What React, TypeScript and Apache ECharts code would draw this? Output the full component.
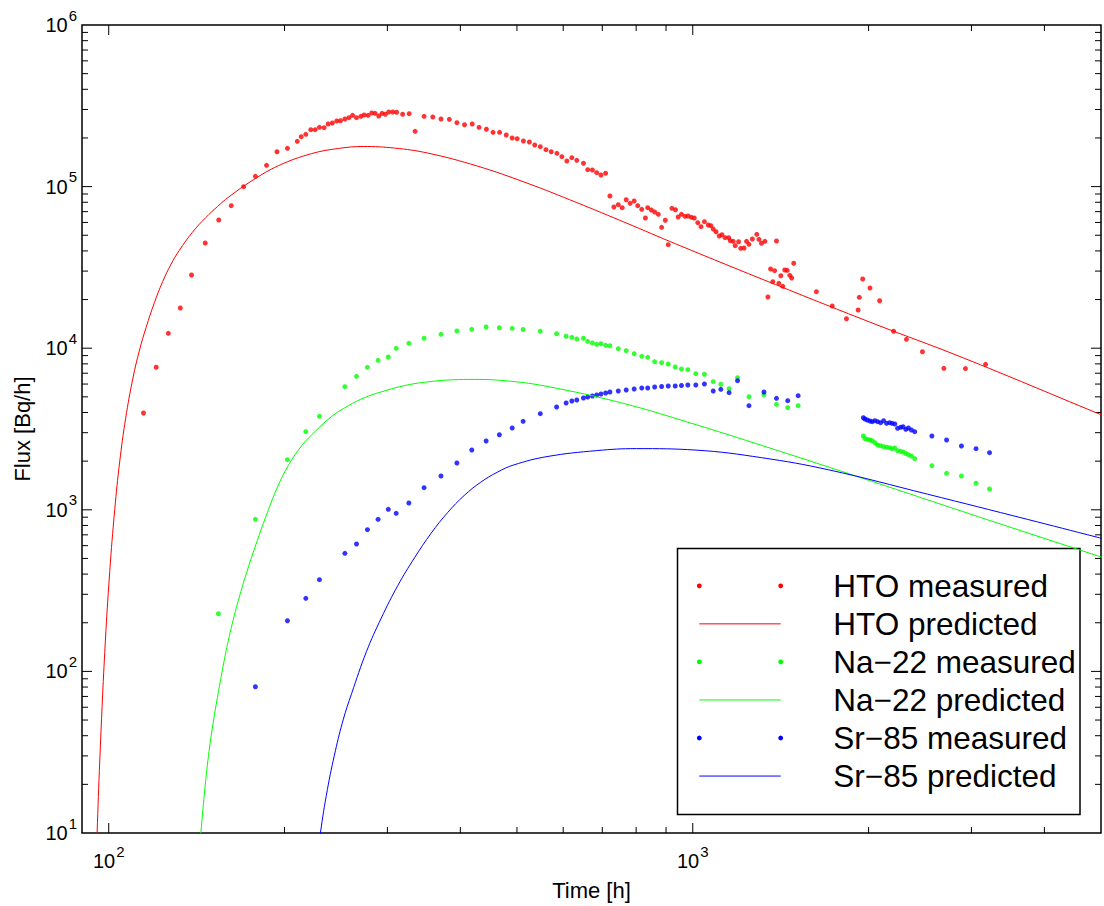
import React, { useEffect, useRef } from 'react';
import * as echarts from 'echarts';

const FONT = '"Liberation Sans", Arial, Helvetica, sans-serif';

// Axis ranges
const X_MIN = 90;
const X_MAX = 5000;
const Y_MIN = 10;
const Y_MAX = 1e6;

// Tick values
const xMajorTicks = [100, 1000];
const xMinorTicks = [200, 300, 400, 500, 600, 700, 800, 900, 2000, 3000, 4000];
const yMajorTicks = [100, 1000, 10000, 100000];
const yMinorTicks = [
  20, 30, 40, 50, 60, 70, 80, 90,
  200, 300, 400, 500, 600, 700, 800, 900,
  2000, 3000, 4000, 5000, 6000, 7000, 8000, 9000,
  20000, 30000, 40000, 50000, 60000, 70000, 80000, 90000,
  200000, 300000, 400000, 500000, 600000, 700000, 800000, 900000,
];

const seriesNames = [
  'HTO measured',
  'HTO predicted',
  'Na\u221222 measured',
  'Na\u221222 predicted',
  'Sr\u221285 measured',
  'Sr\u221285 predicted',
];
const seriesColors = ['#ff0000', '#ff0000', '#00ff00', '#00ff00', '#0000ff', '#0000ff'];
const seriesKinds = ['dots', 'line', 'dots', 'line', 'dots', 'line'];

// HTO measured
const htoMeasuredTime = [
  114.7, 120.6, 126.5, 132.6, 138.6, 146.3, 154.3, 162.1, 170.2, 178.3,
  186.3, 194.1, 202.3, 210.3, 213.6, 217.5, 221.8, 225.7, 229.5, 233.8,
  237.5, 241.5, 245.7, 249.4, 253.7, 257.8, 261.5, 265.6, 270.2, 273.7,
  278.0, 282.1, 285.8, 290.0, 293.7, 297.6, 301.6, 306.4, 311.1, 318.6,
  326.9, 334.6, 346.7, 358.8, 370.6, 383.0, 394.6, 406.6, 419.1, 430.6,
  443.3, 455.0, 466.9, 479.3, 490.7, 500.4, 512.9, 525.1, 536.3, 548.2,
  560.6, 572.3, 585.3, 596.9, 608.7, 620.8, 633.0, 649.9, 660.9, 673.2,
  684.7, 696.3, 709.3, 721.3, 732.7, 745.5, 757.2, 769.2, 781.3, 793.7,
  805.0, 817.8, 829.7, 837.2, 849.4, 860.5, 873.0, 884.4, 897.3, 907.8,
  921.1, 934.2, 944.1, 956.4, 970.3, 981.8, 994.6, 1006, 1020, 1033,
  1047, 1063, 1074, 1084, 1096, 1110, 1122, 1136, 1152, 1159,
  1173, 1182, 1198, 1208, 1224, 1236, 1248, 1265, 1287, 1298,
  1311, 1329, 1345, 1359, 1371, 1381, 1391, 1404, 1415, 1426,
  1437, 1451, 1466, 1477, 1489, 1628, 1733, 1833, 1919, 1928,
  1954, 2011, 2089, 2207, 2322, 2473, 2691, 2930, 3172,
];
const htoMeasuredFlux = [
  3970, 7620, 12360, 17740, 28380, 44770, 62150, 76170, 99860, 115800,
  135400, 164400, 172600, 190700, 203600, 210700, 225000, 225000, 232800, 231500,
  244000, 247500, 254600, 255700, 262000, 266900, 276200, 266900, 272300, 277400,
  276200, 285400, 284200, 273400, 284200, 280200, 289500, 289500, 288300, 280200,
  282600, 219900, 272300, 269600, 262000, 260900, 248600, 241500, 244000, 232800,
  226300, 216800, 216800, 208600, 199800, 197900, 191500, 188800, 180900, 176600,
  169200, 164400, 160700, 153100, 144000, 151000, 145400, 139400, 127300, 126700,
  121900, 118000, 120900, 87460, 74780, 77270, 74030, 82960, 78820, 81450,
  76170, 72360, 63930, 74030, 71640, 69630, 67390, 56000, 61890, 43700,
  73400, 71940, 64850, 67390, 65490, 65780, 64570, 63930, 59810, 56490,
  60670, 57860, 57280, 54640, 52580, 49460, 50380, 48280, 48280, 46260,
  45870, 43080, 45600, 41510, 41690, 45870, 43950, 47390, 50680, 47190,
  44590, 45870, 20740, 30910, 25790, 30170, 46070, 25210, 28090, 24150,
  30470, 30300, 28260, 27190, 33530, 22370, 18240, 15220, 17230, 20650,
  26810, 23570, 19670, 12730, 11350, 9510, 7510, 7480, 7950,
];

// HTO predicted
const htoPredTime = [
  95.37, 95.52, 96.54, 98.44, 100.4, 102.4, 104.4, 106.9, 110.0, 112.9,
  115.9, 119.7, 123.7, 127.9, 132.1, 139.1, 146.6, 153.5, 160.6, 176.0,
  195.4, 222.7, 247.2, 272.7, 308.7, 351.8, 427.9, 520.3, 633.0, 770.0,
  936.8, 1386, 2051, 2880, 4933, 5050,
];
const htoPredFlux = [
  7.85, 10, 28.26, 130.7, 414.7, 1003, 1973, 3683, 6523, 9732,
  13470, 19090, 25830, 33190, 40340, 52150, 64300, 75200, 86350, 108900,
  134900, 160100, 172100, 177100, 173100, 161200, 133900, 105100, 79620, 59450,
  44070, 24750, 14100, 8822, 3955, 3816,
];

// Na-22 measured
const naMeasuredTime = [
  154.1, 178.3, 202.3, 217.5, 229.5, 253.7, 265.6, 277.3, 289.2, 301.1,
  310.6, 326.5, 346.7, 370.6, 394.6, 418.4, 442.8, 466.5, 490.7, 512.3,
  548.2, 584.6, 607.0, 620.8, 633.0, 649.9, 660.9, 673.2, 684.7, 696.3,
  709.3, 721.3, 745.5, 769.2, 793.7, 817.8, 837.2, 860.5, 884.4, 907.8,
  933.1, 956.4, 980.7, 1012, 1047, 1084, 1117, 1154, 1193, 1248,
  1324, 1391, 1454, 1515,
  1959, 1972, 1990, 2011, 2029, 2051, 2073, 2097, 2122, 2147,
  2173, 2195, 2218, 2242, 2268, 2291, 2316, 2340, 2368, 2399,
  2567, 2720, 2884, 3055, 3222,
];
const naMeasuredFlux = [
  227.5, 873, 2042, 3043, 3790, 5779, 6700, 7617, 8417, 8822,
  9986, 10720, 11520, 12190, 12780, 13090, 13530, 13390, 13280, 13050,
  12740, 12290, 11850, 11680, 11400, 11520, 11030, 10770, 10570, 10660,
  10420, 10360, 9929, 9650, 9247, 8911, 8785, 8249, 8134, 7984,
  7650, 7434, 7362, 6956, 6897, 6204, 5981, 5615, 6571, 5009,
  5154, 4496, 4283, 4407,
  2862, 2754, 2731, 2703, 2676, 2601, 2518, 2493, 2458, 2437,
  2423, 2388, 2412, 2321, 2301, 2279, 2237, 2193, 2152, 2071,
  1875, 1682, 1619, 1459, 1345,
];

// Na-22 predicted
const naPredTime = [
  143.1, 143.8, 146.2, 148.5, 151.0, 153.5, 158.2, 162.7, 168.4, 173.8,
  179.6, 185.5, 194.2, 203.3, 214.2, 225.7, 240.9, 257.1, 274.5, 292.9,
  323.1, 356.4, 387.9, 422.4, 486.9, 562.8, 755.1, 1013, 1402, 1947,
  3197, 4932, 5050,
];
const naPredFlux = [
  7.85, 10, 19.31, 31.94, 48.56, 68.94, 124.3, 196.5, 312.6, 452.9,
  644.8, 892.5, 1364, 1899, 2503, 3056, 3784, 4401, 4954, 5365,
  5902, 6221, 6376, 6411, 6248, 5803, 4587, 3362, 2318, 1573,
  867.6, 519.1, 504.7,
];

// Sr-85 measured
const srMeasuredTime = [
  178.3, 202.3, 217.5, 229.5, 253.7, 265.6, 277.3, 289.2, 301.1, 310.6,
  326.5, 346.7, 370.6, 394.6, 418.4, 442.8, 466.5, 490.7, 512.3, 548.2,
  584.6, 607.0, 620.8, 633.0, 649.9, 660.9, 673.2, 684.7, 696.3, 709.3,
  721.3, 745.5, 769.2, 793.7, 817.8, 837.2, 860.5, 884.4, 907.8, 933.1,
  956.4, 980.7, 1012,
  1047, 1084, 1117, 1154, 1193, 1248, 1324, 1391, 1454, 1515,
  1959, 1972, 1990, 2011, 2029, 2051, 2073, 2097, 2122, 2147,
  2173, 2195, 2218, 2242, 2268, 2291, 2316, 2340, 2368, 2399,
  2567, 2720, 2884, 3055, 3222,
];
const srMeasuredFlux = [
  80.4, 205.9, 283.4, 369.4, 538.0, 614.4, 753.3, 873, 1007, 951.3,
  1102, 1370, 1619, 1948, 2344, 2665, 2915, 3208, 3528, 3933,
  4326, 4580, 4713, 4781, 4918, 4989, 5061, 5133, 5207, 5282,
  5358, 5434, 5512, 5591, 5672, 5672, 5754, 5794, 5836, 5836,
  5878, 5920, 5920,
  6004, 5434, 5568, 5304, 6293, 4407, 5358, 4898, 4733, 5083,
  3714, 3647, 3595, 3544, 3509, 3559, 3509, 3459, 3559, 3430,
  3459, 3430, 3395, 3193, 3239, 3267, 3148, 3208, 3117, 3043,
  2862, 2703, 2482, 2388, 2256,
];

// Sr-85 predicted
const srPredTime = [
  229.1, 230.4, 236.8, 244.4, 252.2, 260.5, 276.2, 292.9, 312.7, 333.8,
  356.5, 380.5, 406.1, 433.5, 462.8, 494.0, 562.8, 684.7, 800.9, 1013,
  1312, 1708, 2524, 3739, 4932, 5050,
];
const srPredFlux = [
  7.85, 10, 18.56, 32.26, 50.61, 72.78, 132.4, 214.0, 340.6, 503.9,
  716.5, 962.3, 1226, 1482, 1709, 1896, 2134, 2324, 2391, 2341,
  2101, 1768, 1249, 873, 675.7, 661.4,
];

const zip = (a: number[], b: number[]) => a.map((v, i) => [v, b[i]]);

const pow10Label = (v: number) => {
  const e = Math.log10(v);
  const r = Math.round(e);
  if (Math.abs(e - r) > 1e-6) return '';
  return `{b|10}{s|${r}}`;
};

const labelRich = {
  b: { fontSize: 20, lineHeight: 35, fontFamily: FONT, color: '#000' },
  s: { fontSize: 15, lineHeight: 15, fontFamily: FONT, color: '#000', verticalAlign: 'top', padding: [0, 0, 0, 1] },
};

export default function App() {
  const ref = useRef<HTMLDivElement>(null);

  useEffect(() => {
    if (!ref.current) return;
    const chart = echarts.init(ref.current, undefined, { renderer: 'svg' });

    const tickData: number[][] = [];
    xMajorTicks.forEach((v) => tickData.push([v, Y_MIN, 0, 10]));
    xMinorTicks.forEach((v) => tickData.push([v, Y_MIN, 0, 6]));
    yMajorTicks.forEach((v) => tickData.push([X_MIN, v, 1, 10]));
    yMinorTicks.forEach((v) => tickData.push([X_MIN, v, 1, 6]));

    const measured = (name: string, t: number[], f: number[], color: string) => ({
      name,
      type: 'scatter',
      data: zip(t, f),
      symbol: 'circle',
      symbolSize: 5,
      itemStyle: { color },
      silent: true,
    });
    const predicted = (name: string, t: number[], f: number[], color: string) => ({
      name,
      type: 'line',
      data: zip(t, f),
      showSymbol: false,
      symbol: 'none',
      smooth: 0.4,
      clip: true,
      lineStyle: { color, width: 1 },
      itemStyle: { color },
      silent: true,
    });

    // Legend drawn as graphic elements (Matlab style)
    const legX = 677.5;
    const legY = 548.5;
    const legW = 402.5;
    const legH = 266;
    const rowY0 = 585.8;
    const rowStep = 38.05;
    const sampleX1 = 699.3;
    const sampleX2 = 780.7;
    const textX = 833.3;
    const legendChildren: any[] = [
      {
        type: 'rect',
        shape: { x: legX, y: legY, width: legW, height: legH },
        style: { fill: '#ffffff', stroke: '#000000', lineWidth: 1.5 },
      },
    ];
    seriesNames.forEach((name, i) => {
      const y = rowY0 + i * rowStep;
      const color = seriesColors[i];
      if (seriesKinds[i] === 'line') {
        legendChildren.push({
          type: 'line',
          shape: { x1: sampleX1, y1: y, x2: sampleX2, y2: y },
          style: { stroke: color, lineWidth: 1 },
        });
      } else {
        legendChildren.push({ type: 'circle', shape: { cx: sampleX1, cy: y, r: 2.4 }, style: { fill: color } });
        legendChildren.push({ type: 'circle', shape: { cx: sampleX2, cy: y, r: 2.4 }, style: { fill: color } });
      }
      legendChildren.push({
        type: 'text',
        style: {
          text: name,
          x: textX,
          y,
          fontSize: 31.5,
          fontFamily: FONT,
          fill: '#000',
          align: 'left',
          verticalAlign: 'middle',
        },
      });
    });

    chart.setOption({
      animation: false,
      backgroundColor: '#ffffff',
      grid: {
        left: 82,
        top: 25,
        width: 1025.5,
        height: 808,
        show: true,
        borderColor: '#000',
        borderWidth: 1.5,
        backgroundColor: 'transparent',
      },
      xAxis: {
        type: 'log',
        logBase: 10,
        min: X_MIN,
        max: X_MAX,
        name: 'Time [h]',
        nameLocation: 'middle',
        nameGap: 46,
        nameTextStyle: { fontSize: 22, fontFamily: FONT, color: '#000' },
        axisLine: { show: false },
        axisTick: { show: false },
        minorTick: { show: false },
        splitLine: { show: false },
        axisLabel: {
          formatter: pow10Label,
          rich: labelRich,
          margin: 10.5,
          showMinLabel: true,
          showMaxLabel: true,
        },
      },
      yAxis: {
        type: 'log',
        logBase: 10,
        min: Y_MIN,
        max: Y_MAX,
        name: 'Flux [Bq/h]',
        nameLocation: 'middle',
        nameGap: 49,
        nameTextStyle: { fontSize: 22, fontFamily: FONT, color: '#000' },
        axisLine: { show: false },
        axisTick: { show: false },
        minorTick: { show: false },
        splitLine: { show: false },
        axisLabel: {
          formatter: pow10Label,
          rich: labelRich,
          margin: 5,
          showMinLabel: true,
          showMaxLabel: true,
        },
      },
      series: [
        measured(seriesNames[0], htoMeasuredTime, htoMeasuredFlux, seriesColors[0]),
        predicted(seriesNames[1], htoPredTime, htoPredFlux, seriesColors[1]),
        measured(seriesNames[2], naMeasuredTime, naMeasuredFlux, seriesColors[2]),
        predicted(seriesNames[3], naPredTime, naPredFlux, seriesColors[3]),
        measured(seriesNames[4], srMeasuredTime, srMeasuredFlux, seriesColors[4]),
        predicted(seriesNames[5], srPredTime, srPredFlux, seriesColors[5]),
        {
          name: 'ticks',
          type: 'custom',
          silent: true,
          clip: false,
          data: tickData,
          renderItem: (params: any, api: any) => {
            const kind = api.value(2);
            const len = api.value(3);
            const style = { stroke: '#000', lineWidth: 1 };
            if (kind === 0) {
              const v = api.value(0);
              const pb = api.coord([v, Y_MIN]);
              const pt = api.coord([v, Y_MAX]);
              return {
                type: 'group',
                children: [
                  { type: 'line', shape: { x1: pb[0], y1: pb[1], x2: pb[0], y2: pb[1] - len }, style },
                  { type: 'line', shape: { x1: pt[0], y1: pt[1], x2: pt[0], y2: pt[1] + len }, style },
                ],
              };
            }
            const w = api.value(1);
            const pl = api.coord([X_MIN, w]);
            const pr = api.coord([X_MAX, w]);
            return {
              type: 'group',
              children: [
                { type: 'line', shape: { x1: pl[0], y1: pl[1], x2: pl[0] + len, y2: pl[1] }, style },
                { type: 'line', shape: { x1: pr[0], y1: pr[1], x2: pr[0] - len, y2: pr[1] }, style },
              ],
            };
          },
        },
      ],
      graphic: [{ type: 'group', z: 100, children: legendChildren }],
    });

    return () => {
      chart.dispose();
    };
  }, []);

  return (
    <div
      ref={ref}
      style={{ position: 'absolute', left: 0, top: 0, width: 1104, height: 906, background: '#fff' }}
    />
  );
}
